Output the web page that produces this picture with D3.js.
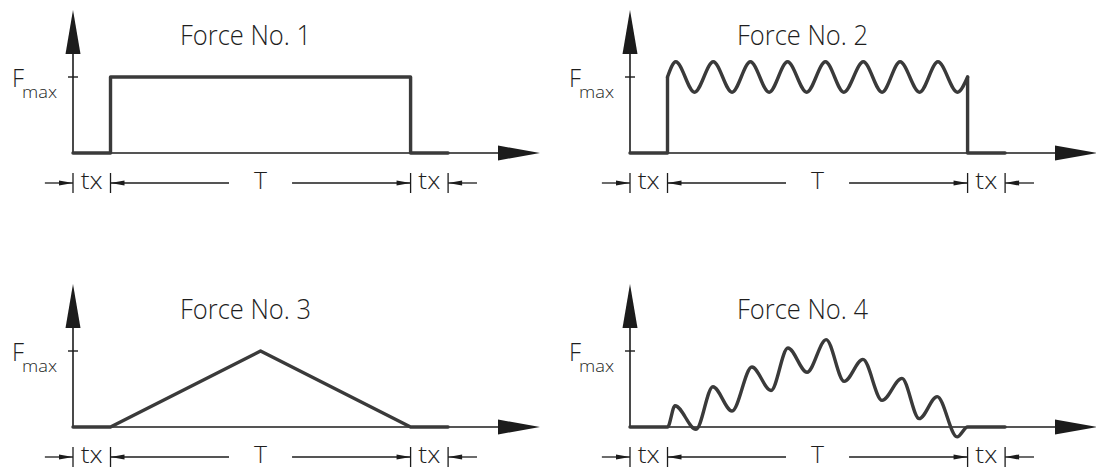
<!DOCTYPE html>
<html>
<head>
<meta charset="utf-8">
<script src="https://cdn.jsdelivr.net/npm/d3@7"></script>
<style>
  html, body { margin: 0; padding: 0; background: #fff; }
  svg text { font-family: "Open Sans", "DejaVu Sans", sans-serif; font-weight: 300; fill: #1e1e1e; }
</style>
</head>
<body>
<svg id="chart" width="1096" height="471"></svg>
<script>
// Load-time diagrams: time in units of tx (T = 8 tx), force in units of Fmax.
const panelTitles = ["Force No. 1", "Force No. 2", "Force No. 3", "Force No. 4"];

// Force No. 1 – rectangular pulse
const force1 = [[0, 0], [1, 0], [1, 1], [9, 1], [9, 0], [10, 0]];

// Force No. 2 – pulse with a ripple around Fmax
const force2Rise = [[0, 0], [1, 0], [1, 1]];
const force2Wave = [
  [1, 1.0], [1.22, 1.2], [1.72, 0.8], [2.22, 1.2], [2.72, 0.8], [3.21, 1.2], [3.71, 0.8],
  [4.2, 1.2], [4.71, 0.8], [5.21, 1.2], [5.7, 0.8], [6.22, 1.2], [6.72, 0.8], [7.2, 1.2],
  [7.72, 0.8], [8.21, 1.2], [8.73, 0.8], [9, 1.0]
];
const force2Fall = [[9, 1], [9, 0], [10, 0]];

// Force No. 3 – triangular pulse
const force3 = [[0, 0], [1, 0], [5, 1], [9, 0], [10, 0]];

// Force No. 4 – oscillating ramp up and down
const force4 = [
  [0, 0], [1, 0], [1.2, 0.28], [1.76, -0.03], [2.21, 0.53], [2.72, 0.21], [3.25, 0.79],
  [3.76, 0.48], [4.21, 1.04], [4.72, 0.72], [5.23, 1.15], [5.71, 0.6], [6.21, 0.89],
  [6.72, 0.35], [7.25, 0.64], [7.71, 0.11], [8.19, 0.4], [8.72, -0.13], [9, 0], [10, 0]
];

// Axis extents and the Fmax tick
const timeAxisEnd = 12.45;
const forceAxisEnd = 1.88;
const forceTickValue = 1;
const forceTickLabel = ["F", "max"];

// Dimension chain under each time axis
const spanBounds = [0, 1, 9, 10];
const spanLabels = ["tx", "T", "tx"];
const chainLeadIn = -0.75;
const chainLeadOut = 10.77;
const chainGapHalf = 0.84;

const panelOrigins = [[73, 153], [630, 153], [73, 427], [630, 427]];

const svg = d3.select("#chart");
const x = d3.scaleLinear().domain([0, timeAxisEnd]).range([0, 467]);
const y = d3.scaleLinear().domain([0, 1]).range([0, -76]);

const axisColor = "#1c1c1c";
const forceColor = "#3a3a3a";

const lineLinear = d3.line().x(d => x(d[0])).y(d => y(d[1]));
const lineSmooth = d3.line().x(d => x(d[0])).y(d => y(d[1])).curve(d3.curveMonotoneX);

function arrowRight(g, tipX, yy, len, half) {
  g.append("path")
    .attr("d", `M${tipX},${yy} L${tipX - len},${yy - half} L${tipX - len},${yy + half} Z`)
    .attr("fill", axisColor);
}
function arrowLeft(g, tipX, yy, len, half) {
  g.append("path")
    .attr("d", `M${tipX},${yy} L${tipX + len},${yy - half} L${tipX + len},${yy + half} Z`)
    .attr("fill", axisColor);
}

function drawFrame(g, title) {
  // time axis
  g.append("line")
    .attr("x1", x(0)).attr("x2", x(timeAxisEnd) - 30)
    .attr("y1", y(0)).attr("y2", y(0))
    .attr("stroke", axisColor).attr("stroke-width", 1.6);
  arrowRight(g, x(timeAxisEnd), y(0), 42, 7.5);

  // force axis
  g.append("line")
    .attr("x1", x(0)).attr("x2", x(0))
    .attr("y1", y(0)).attr("y2", y(forceAxisEnd) + 30)
    .attr("stroke", axisColor).attr("stroke-width", 1.6);
  g.append("path")
    .attr("d", `M${x(0)},${y(forceAxisEnd)} L${x(0) - 7.5},${y(forceAxisEnd) + 44} L${x(0) + 7.5},${y(forceAxisEnd) + 44} Z`)
    .attr("fill", axisColor);

  // Fmax tick
  g.append("line")
    .attr("x1", x(0) - 5).attr("x2", x(0) + 5)
    .attr("y1", y(forceTickValue)).attr("y2", y(forceTickValue))
    .attr("stroke", axisColor).attr("stroke-width", 1.4);
  g.append("text")
    .attr("x", x(0) - 61).attr("y", y(forceTickValue) + 10)
    .attr("font-size", 26)
    .attr("textLength", 12).attr("lengthAdjust", "spacingAndGlyphs")
    .text(forceTickLabel[0]);
  g.append("text")
    .attr("x", x(0) - 51).attr("y", y(forceTickValue) + 21)
    .attr("font-size", 17)
    .attr("textLength", 35).attr("lengthAdjust", "spacingAndGlyphs")
    .text(forceTickLabel[1]);

  // title
  g.append("text")
    .attr("x", 107).attr("y", -108)
    .attr("font-size", 27)
    .attr("textLength", 131).attr("lengthAdjust", "spacingAndGlyphs")
    .text(title);

  // dimension chain
  const cy = 30;
  const seg = (a, b) => g.append("line")
    .attr("x1", x(a)).attr("x2", x(b)).attr("y1", cy).attr("y2", cy)
    .attr("stroke", axisColor).attr("stroke-width", 1.3);
  spanBounds.forEach(t => {
    g.append("line")
      .attr("x1", x(t)).attr("x2", x(t)).attr("y1", cy - 10).attr("y2", cy + 10)
      .attr("stroke", axisColor).attr("stroke-width", 1.3);
  });
  const [b0, b1, b2, b3] = spanBounds;
  const mid = (b1 + b2) / 2;
  seg(chainLeadIn, b0); arrowRight(g, x(b0), cy, 14, 2.6);
  seg(b1, mid - chainGapHalf); arrowLeft(g, x(b1), cy, 14, 2.6);
  seg(mid + chainGapHalf, b2); arrowRight(g, x(b2), cy, 14, 2.6);
  seg(b3, chainLeadOut); arrowLeft(g, x(b3), cy, 14, 2.6);

  const labelPos = [(b0 + b1) / 2, mid, (b2 + b3) / 2];
  spanLabels.forEach((lab, i) => {
    g.append("text")
      .attr("x", x(labelPos[i])).attr("y", cy + 6)
      .attr("text-anchor", "middle")
      .attr("font-size", 24)
      .attr("textLength", lab === "T" ? 13 : 22).attr("lengthAdjust", "spacingAndGlyphs")
      .text(lab);
  });
}

function drawForce(g, data, gen) {
  g.append("path")
    .attr("d", gen(data))
    .attr("fill", "none")
    .attr("stroke", forceColor)
    .attr("stroke-width", 3.4)
    .attr("stroke-linejoin", "round")
    .attr("stroke-linecap", "round");
}

const panels = panelOrigins.map(([ox, oy]) =>
  svg.append("g").attr("transform", `translate(${ox},${oy})`));

panels.forEach((g, i) => drawFrame(g, panelTitles[i]));

drawForce(panels[0], force1, lineLinear);
drawForce(panels[1], force2Rise, lineLinear);
drawForce(panels[1], force2Wave, lineSmooth);
drawForce(panels[1], force2Fall, lineLinear);
drawForce(panels[2], force3, lineLinear);
drawForce(panels[3], force4, lineSmooth);
</script>
</body>
</html>
